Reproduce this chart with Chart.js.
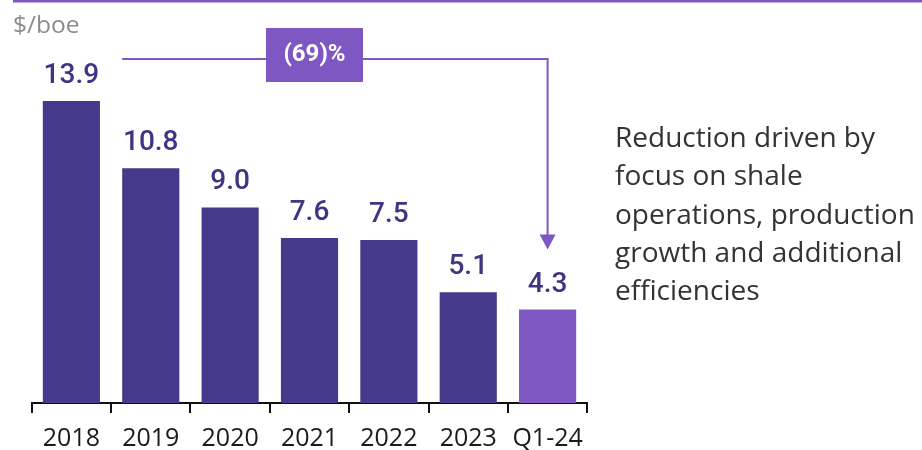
<!DOCTYPE html>
<html>
<head>
<meta charset="utf-8">
<script src="https://cdn.jsdelivr.net/npm/chart.js@4"></script>
<style>
  html, body { margin: 0; padding: 0; background: #fff; }
  #wrap { width: 922px; height: 450px; position: relative; }
</style>
</head>
<body>
<div id="wrap"><canvas id="cost-chart" width="922" height="450"></canvas></div>
<script>
const periods = ['2018', '2019', '2020', '2021', '2022', '2023', 'Q1-24'];
const costPerBoe = [13.9, 10.8, 9.0, 7.6, 7.5, 5.1, 4.3];
const changeLabel = '(69)%';
const unitLabel = '$/boe';
const noteLines = [
    'Reduction driven by',
    'focus on shale',
    'operations, production',
    'growth and additional',
    'efficiencies'
];

const DARK = '#45398b';
const LIGHT = '#7e57c2';
const FONT = 'Roboto, "Open Sans", sans-serif';
const TEXT_FONT = '"Open Sans", Roboto, sans-serif';

const barColors = periods.map((p, i) => i === periods.length - 1 ? LIGHT : DARK);

// value labels above each bar
const valueLabels = {
    id: 'valueLabels',
    afterDatasetsDraw(chart) {
        const ctx = chart.ctx;
        const meta = chart.getDatasetMeta(0);
        ctx.save();
        ctx.fillStyle = '#3f3582';
        ctx.font = '500 28px ' + FONT;
        ctx.textAlign = 'center';
        ctx.textBaseline = 'alphabetic';
        meta.data.forEach((bar, i) => {
            ctx.fillText(costPerBoe[i].toFixed(1), bar.x, bar.y - 18);
        });
        ctx.restore();
    }
};

// unit label, top rule, change bracket and side note
const extras = {
    id: 'extras',
    afterDraw(chart) {
        const ctx = chart.ctx;
        const xs = chart.scales.x;
        const ys = chart.scales.y;
        const meta = chart.getDatasetMeta(0);
        ctx.save();

        ctx.fillStyle = LIGHT;
        ctx.fillRect(13, 0, 909, 2.5);

        ctx.fillStyle = '#8c8c8c';
        ctx.font = '24.5px ' + TEXT_FONT;
        ctx.textAlign = 'left';
        ctx.textBaseline = 'alphabetic';
        ctx.fillText(unitLabel, 13, 33);

        // bracket from 2019 to the last period
        const last = periods.length - 1;
        const x0 = meta.data[1].x - meta.data[1].width / 2;
        const x1 = xs.getPixelForValue(last);
        const yLine = 59;
        const tipY = ys.getPixelForValue(costPerBoe[last]) - 60;
        ctx.strokeStyle = LIGHT;
        ctx.lineWidth = 2;
        ctx.beginPath();
        ctx.moveTo(x0, yLine);
        ctx.lineTo(x1, yLine);
        ctx.lineTo(x1, tipY - 14);
        ctx.stroke();
        ctx.fillStyle = LIGHT;
        ctx.beginPath();
        ctx.moveTo(x1 - 8, tipY - 15);
        ctx.lineTo(x1 + 8, tipY - 15);
        ctx.lineTo(x1, tipY);
        ctx.closePath();
        ctx.fill();

        ctx.fillRect(266, 28, 97, 54);
        ctx.fillStyle = '#fff';
        ctx.font = 'bold 24px ' + FONT;
        ctx.textAlign = 'center';
        ctx.textBaseline = 'middle';
        ctx.fillText(changeLabel, 314.5, 55);

        ctx.fillStyle = '#333';
        ctx.font = '28px ' + TEXT_FONT;
        ctx.textAlign = 'left';
        ctx.textBaseline = 'alphabetic';
        noteLines.forEach((line, i) => {
            ctx.fillText(line, 615, 147 + i * 38.3);
        });
        ctx.restore();
    }
};

new Chart(document.getElementById('cost-chart').getContext('2d'), {
    type: 'bar',
    data: {
        labels: periods,
        datasets: [{
            data: costPerBoe,
            backgroundColor: barColors,
            categoryPercentage: 1,
            barPercentage: 0.72
        }]
    },
    options: {
        responsive: false,
        animation: false,
        events: [],
        layout: { padding: { left: 31.7, right: 334.7, top: 0, bottom: 0 } },
        plugins: {
            legend: { display: false },
            tooltip: { enabled: false }
        },
        scales: {
            x: {
                afterFit(scale) { scale.height = 47; },
                border: { display: true, color: '#111', width: 2 },
                grid: {
                    offset: true,
                    drawOnChartArea: false,
                    drawTicks: true,
                    tickLength: 10,
                    color: '#111',
                    lineWidth: 2
                },
                ticks: {
                    color: '#1a1a1a',
                    font: { family: TEXT_FONT, size: 25 },
                    padding: 11
                }
            },
            y: {
                display: false,
                min: 0,
                max: 18.55
            }
        }
    },
    plugins: [valueLabels, extras]
});
</script>
</body>
</html>
